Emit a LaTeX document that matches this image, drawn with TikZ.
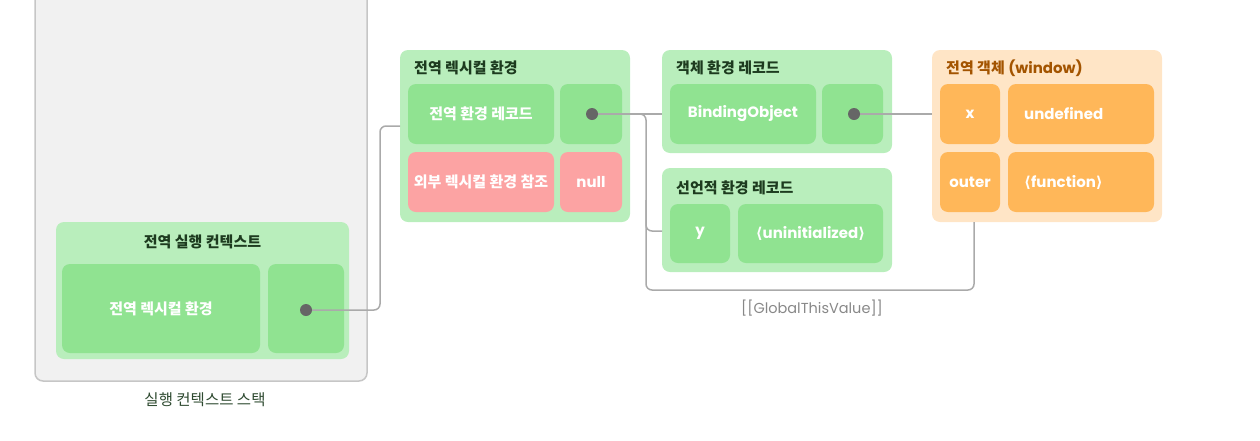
\documentclass[tikz,border=0pt]{standalone}
\usepackage{fontspec}
\setmainfont{Noto Sans CJK KR}
\newfontfamily\lat{Poppins}
\newfontfamily\dvs{DejaVu Sans}
\newcommand{\lang}{{\dvs\bfseries ⟨}}
\newcommand{\rang}{{\dvs\bfseries ⟩}}
\definecolor{stackfill}{HTML}{F1F1F1}
\definecolor{stackline}{HTML}{C6C6C6}
\definecolor{lgreen}{HTML}{B9EEBC}
\definecolor{mgreen}{HTML}{90E391}
\definecolor{lred}{HTML}{FCA3A3}
\definecolor{lpeach}{HTML}{FFE5C6}
\definecolor{morange}{HTML}{FFB759}
\definecolor{dgreen}{HTML}{1D3B1F}
\definecolor{tgreen}{HTML}{2E4A30}
\definecolor{dorange}{HTML}{A35400}
\definecolor{lineg}{HTML}{AAAAAA}
\definecolor{dotg}{HTML}{666666}
\definecolor{labg}{HTML}{888888}
\tikzset{
  outerbox/.style={rounded corners=8pt, inner sep=0pt, outer sep=0pt},
  cell/.style={rounded corners=8pt, inner sep=0pt, outer sep=0pt, text=white, font=\bfseries\fontsize{15}{17}\selectfont},
  gcell/.style={cell, fill=mgreen},
  rcell/.style={cell, fill=lred},
  ocell/.style={cell, fill=morange},
  latcell/.style={font=\lat\fontsize{15}{17}\selectfont\bfseries},
  title/.style={anchor=west, inner sep=0pt, font=\bfseries\fontsize{15}{17}\selectfont, text=dgreen},
  conn/.style={draw=lineg, line width=1.5pt, rounded corners=6pt},
  dotn/.style={circle, fill=dotg, minimum size=12pt, inner sep=0pt},
}
\begin{document}
\begin{tikzpicture}[x=1pt,y=-1pt]
\useasboundingbox (0,0) rectangle (1260,440);
% stack
\node[outerbox, draw=stackline, line width=1.5pt, fill=stackfill, minimum width=332pt, minimum height=400pt] (stack) at (201,181) {};
\node[inner sep=0pt, font=\fontsize{15.5}{17}\selectfont, text=tgreen] (stacklab) at (205,400) {실행 컨텍스트 스택};
% global execution context
\node[outerbox, fill=lgreen, minimum width=293pt, minimum height=137pt] (gec) at (202.5,290.5) {};
\node[title, anchor=center] (gectitle) at (202.5,242) {전역 실행 컨텍스트};
\node[gcell, minimum width=198pt, minimum height=89pt] (geclex) at (161,308.5) {전역 렉시컬 환경};
\node[gcell, minimum width=76pt, minimum height=89pt] (gecptr) at (306,308.5) {};
% global lexical environment
\node[outerbox, fill=lgreen, minimum width=230pt, minimum height=172pt] (gle) at (515,136) {};
\node[title] (gletitle) at (414,68) {전역 렉시컬 환경};
\node[gcell, minimum width=146pt, minimum height=60pt] (ger) at (481,114) {전역 환경 레코드};
\node[gcell, minimum width=62pt, minimum height=60pt] (gerptr) at (591,114) {};
\node[rcell, minimum width=146pt, minimum height=60pt] (outer) at (481,182) {외부 렉시컬 환경 참조};
\node[rcell, latcell, minimum width=62pt, minimum height=60pt] (nullv) at (591,182) {null};
% object environment record
\node[outerbox, fill=lgreen, minimum width=230pt, minimum height=103pt] (oer) at (777,101.5) {};
\node[title] (oertitle) at (676,68) {객체 환경 레코드};
\node[gcell, latcell, minimum width=146pt, minimum height=60pt] (bind) at (743,114) {BindingObject};
\node[gcell, minimum width=61pt, minimum height=60pt] (bindptr) at (852.5,114) {};
% declarative environment record
\node[outerbox, fill=lgreen, minimum width=230pt, minimum height=104pt] (der) at (777,220) {};
\node[title] (dertitle) at (676,188) {선언적 환경 레코드};
\node[gcell, latcell, minimum width=60pt, minimum height=59pt] (yk) at (700,233.5) {y};
\node[gcell, latcell, minimum width=145pt, minimum height=59pt] (yv) at (810.5,233.5) {\lang uninitialized\rang};
% global object
\node[outerbox, fill=lpeach, minimum width=230pt, minimum height=172pt] (go) at (1047,136) {};
\node[title, text=dorange] (gotitle) at (946,68) {전역 객체 {\lat (window)}};
\node[ocell, latcell, minimum width=60pt, minimum height=60pt] (xk) at (970,114) {x};
\node[ocell, minimum width=146pt, minimum height=60pt] (xv) at (1081,114) {};
\node[ocell, latcell, minimum width=60pt, minimum height=60pt] (ok) at (970,182) {outer};
\node[ocell, minimum width=146pt, minimum height=60pt] (ov) at (1081,182) {};
\node[anchor=west, inner sep=0pt, text=white, latcell] (xvt) at (1024,114) {undefined};
\node[anchor=west, inner sep=0pt, text=white, latcell] (ovt) at (1024,182) {\lang function\rang};
% label
\node[inner sep=0pt, font=\lat\fontsize{14.5}{16}\selectfont, text=labg] (gtv) at (812,308) {[[GlobalThisValue]]};
% connectors
\draw[conn] (306,310) -- (380,310) -- (380,126) -- (gle.west |- 0,126);
\draw[conn] (592,114) -- (oer.west |- 0,114);
\draw[conn] (592,114) -- (646,114) -- (646,231) -- (der.west |- 0,231);
\draw[conn] (646,200) -- (646,290) -- (974,290) -- (go.south -| 974,0);
\draw[conn] (854,114) -- (go.west |- 0,114);
\node[dotn] (d1) at (306,310) {};
\node[dotn] (d2) at (592,114) {};
\node[dotn] (d3) at (854,114) {};
\end{tikzpicture}
\end{document}
